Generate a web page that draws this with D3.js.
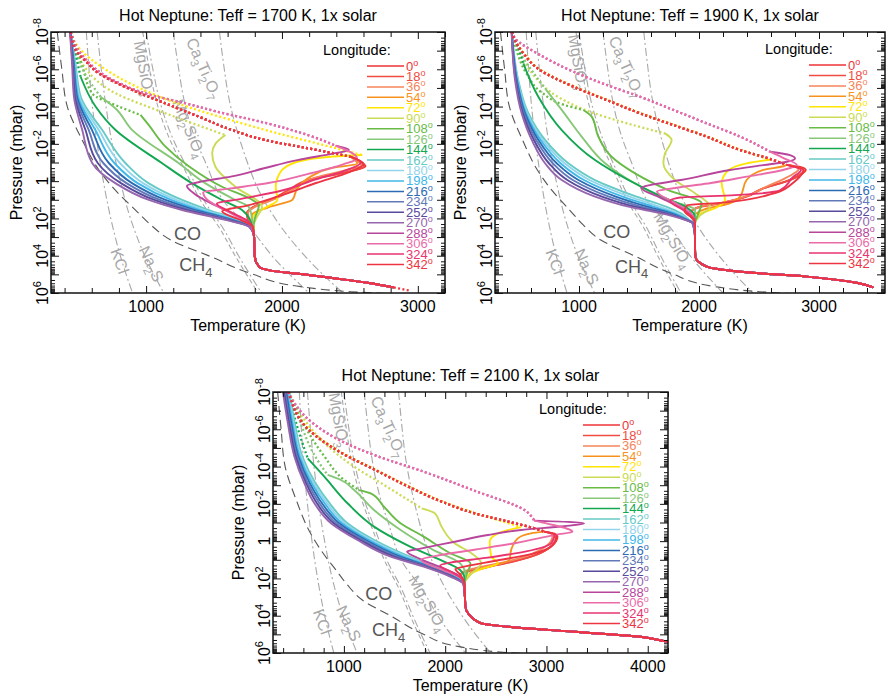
<!DOCTYPE html>
<html>
<head>
<meta charset="utf-8">
<script src="https://cdn.jsdelivr.net/npm/d3@7"></script>
<style>
  body { margin: 0; background: #fff; }
  text { font-family: "Liberation Sans", Arial, Helvetica, sans-serif; }
</style>
</head>
<body>
<div id="chart"></div>
<script>
// longitudes shown in every legend, and their colours
const longitudes = [0, 18, 36, 54, 72, 90, 108, 126, 144, 162, 180, 198, 216, 234, 252, 270, 288, 306, 324, 342];
const colors = ["#ee3338", "#ef4b41", "#f5855b", "#f7921e", "#ffe500", "#cbdb55", "#68bb45", "#87c878",
  "#13a752", "#66cac6", "#92d4ea", "#40b8e9", "#2a6bb4", "#6279b9", "#574a9c", "#9566ae",
  "#b8459c", "#eb6ba9", "#e9336f", "#ed3443"];

const pressureTicks = [-8, -6, -4, -2, 0, 2, 4, 6];   // log10 of pressure in mbar
const tempTicks1700 = [1000, 2000, 3000];
const tempTicks1900 = [1000, 2000, 3000];
const tempTicks2100 = [1000, 2000, 3000, 4000];

// condensation curves, [T (K), log10 p (mbar)]
const coCh4 = [[346,-8],[380,-6],[420,-4],[530,-2.2],[653,-0.6],[775,0.5],[922,1.55],[1035,2.35],[1182,3.16],[1476,4.05],[1770,4.95],[2138,5.66],[2505,5.93],[2820,6.05]];
const kcl = [[560,-8],[580,-6],[605,-4],[640,-2],[685,0],[740,2],[810,4],[900,6]];
const na2s = [[640,-8],[670,-6],[705,-4],[750,-2],[810,0],[885,2],[990,4],[1130,6]];
const mgsio3 = [[1000,-8],[1050,-6],[1100,-4.3],[1190,-2.4],[1310,-0.6],[1440,1.2],[1560,2.45],[1680,4],[1850,6]];
const mgsio3b = [[975,-8],[1025,-6],[1075,-4.3],[1165,-2.4],[1285,-0.6],[1415,1.2],[1535,2.45],[1655,4],[1825,6]];
const mg2sio4 = [[1200,-8],[1240,-6],[1275,-4.5],[1350,-2.5],[1440,-0.96],[1584,1.19],[1755,2.44],[1950,4.2],[2200,6]];
const ca3ti2o7 = [[1540,-8],[1570,-6.3],[1608,-4.5],[1706,-1.85],[1853,0.83],[2050,3],[2300,5],[2450,6]];

// ---------- Teff = 1700 K ----------
const redTop1700 = [[445,-8],[481,-7.03],[560,-6.4],[653,-5.78],[898,-4.89],[1143,-4.17],[1388,-3.46],[1633,-2.74],[1878,-2.2],[2200,-1.75],[2505,-1.31]];
const pinkTop1700 = [[445,-8],[530,-6.75],[776,-5.35],[1020,-4.65],[1265,-4.22],[1510,-3.75],[1880,-3.12],[2200,-2.45],[2395,-1.9]];
const yellowTop1700 = [[445,-8],[500,-7.2],[700,-6.0],[950,-5.0],[1200,-4.25],[1623,-3.28],[1950,-2.6],[2300,-1.95],[2591,-1.4]];
const top90_1700 = [[445,-8],[530,-6.3],[776,-4.71],[1143,-3.64],[1584,-2.47]];
const top108_1700 = [[445,-8],[530,-6.2],[604,-4.7],[800,-4.0],[959,-3.55]];
const top126_1700 = [[445,-8],[500,-6.5],[580,-5.4],[665,-4.53]];
const top144_1700 = [[445,-8],[480,-6.8],[518,-5.6]];
const tops1700 = [redTop1700, redTop1700, redTop1700, redTop1700, yellowTop1700, top90_1700, top108_1700, top126_1700, top144_1700,
  [], [], [], [], [], [], [], pinkTop1700, pinkTop1700, redTop1700, redTop1700];
const lows1700 = [
  [[2590,-1.0],[2615,-0.8],[2481,-0.5],[2235,-0.15],[2064,0.48],[1917,1.01],[1794,1.37],[1745,1.73],[1758,2.18],[1790,2.45]],
  [[2580,-1.02],[2605,-0.78],[2460,-0.45],[2215,-0.1],[2040,0.52],[1900,1.05],[1785,1.4],[1740,1.75],[1760,2.2],[1790,2.45]],
  [[2560,-1.05],[2585,-0.85],[2450,-0.55],[2250,-0.2],[2090,0.4],[1950,0.95],[1810,1.35],[1750,1.7],[1765,2.15],[1790,2.45]],
  [[2554,-0.95],[2358,-0.69],[2211,-0.24],[2113,0.39],[2076,1.01],[1900,1.4],[1780,1.8],[1775,2.2],[1790,2.45]],
  [[2358,-1.31],[2113,-1.04],[1990,-0.5],[1954,0.3],[1966,1.01],[1870,1.45],[1790,1.85],[1780,2.2],[1790,2.45]],
  [[1510,-2.0],[1486,-1.49],[1510,-0.77],[1657,0.3],[1853,1.37],[1810,2.0],[1790,2.45]],
  [[1020,-3.0],[1143,-1.85],[1314,-0.8],[1559,0.3],[1780,1.0],[1830,1.3],[1800,2.0],[1790,2.45]],
  [[775,-3.9],[898,-2.74],[1241,-0.96],[1437,0.12],[1657,1.01],[1755,1.37],[1780,2.0],[1785,2.45]],
  [[628,-4.0],[775,-2.74],[1118,-0.96],[1339,0.12],[1559,1.01],[1706,1.55],[1765,2.08],[1780,2.45]],
  [[445,-8],[480,-6.3],[520,-4.5],[677,-2.74],[849,-0.96],[1020,0.12],[1265,1.01],[1461,1.55],[1680,2.08],[1772,2.45]],
  [[444,-8],[475,-6.3],[510,-4.5],[652,-2.74],[808,-0.96],[980,0.12],[1224,1.01],[1429,1.55],[1664,2.08],[1770,2.45]],
  [[443,-8],[471,-6.3],[500,-4.5],[627,-2.74],[768,-0.96],[940,0.12],[1184,1.01],[1397,1.55],[1648,2.08],[1768,2.45]],
  [[443,-8],[467,-6.3],[492,-4.5],[602,-2.74],[727,-0.96],[899,0.12],[1143,1.01],[1364,1.55],[1632,2.08],[1766,2.45]],
  [[442,-8],[463,-6.3],[484,-4.5],[578,-2.74],[686,-0.96],[858,0.12],[1102,1.01],[1331,1.55],[1616,2.08],[1764,2.45]],
  [[441,-8],[459,-6.3],[476,-4.5],[554,-2.74],[645,-0.96],[817,0.12],[1061,1.01],[1298,1.55],[1600,2.08],[1762,2.45]],
  [[440,-8],[455,-6.3],[469,-4.5],[530,-2.74],[604,-0.96],[776,0.12],[1020,1.01],[1265,1.55],[1584,2.08],[1760,2.45]],
  [[2493,-1.67],[2382,-1.49],[2113,-1.13],[1868,-0.69],[1623,-0.24],[1420,0.0],[1300,0.25],[1360,0.7],[1480,1.2],[1640,1.75],[1780,2.45]],
  [[2553,-1.22],[2450,-0.9],[2200,-0.4],[1900,0.1],[1623,0.39],[1420,0.6],[1450,1.0],[1580,1.55],[1710,2.08],[1780,2.45]],
  [[2580,-1.0],[2480,-0.6],[2250,-0.1],[2000,0.5],[1700,0.95],[1520,1.2],[1620,1.65],[1740,2.1],[1785,2.45]],
  [[2600,-0.9],[2500,-0.5],[2250,0.1],[2000,0.75],[1750,1.3],[1560,1.62],[1700,2.1],[1785,2.45]]
];
const deep1700 = [[1790,2.45],[1795,3.0],[1797,3.5],[1800,4.05],[1831,4.59],[1917,4.8],[2137,4.98],[2382,5.21],[2627,5.45],[2823,5.7]];
const tail1700 = [[2823,5.7],[2946,5.88]];
const notes1700 = [["MgSiO3",986,-6.05,80],["Ca3Ti2O7",1427,-6.05,66],["Mg2SiO4",1317,-2.83,67],["KCl",807,4.28,70],["Na2S",1040,4.44,65],["CO",1305,2.8,0],["CH4",1366,4.5,0]];

// ---------- Teff = 1900 K ----------
const redTop1900 = [[440,-8],[453,-7.75],[536,-6.86],[675,-5.96],[953,-5.07],[1231,-4.35],[1508,-3.64],[1786,-3.01],[2064,-2.39],[2342,-1.67],[2620,-1.13],[2731,-0.87]];
const pinkTop1900 = [[440,-8],[467,-7.66],[675,-6.77],[953,-5.87],[1231,-5.16],[1508,-4.53],[1786,-3.82],[2064,-3.1],[2342,-2.39],[2592,-1.58]];
const yellowTop1900 = [[440,-8],[456,-7.75],[542,-6.86],[682,-5.96],[962,-5.07],[1240,-4.35],[1518,-3.64],[1795,-3.01],[2073,-2.39],[2350,-1.67],[2592,-1.15]];
const top90_1900 = [[440,-8],[500,-7],[620,-5.7],[830,-4.5],[1100,-3.7],[1400,-3.1],[1717,-2.56]];
const top108_1900 = [[440,-8],[480,-7],[560,-5.8],[700,-4.7],[870,-4.1],[1036,-3.82]];
const top126_1900 = [[440,-8],[500,-7],[600,-6],[717,-4.98]];
const top144_1900 = [[440,-8],[490,-7.2],[536,-6.32]];
const tops1900 = [redTop1900, redTop1900, redTop1900, redTop1900, yellowTop1900, top90_1900, top108_1900, top126_1900, top144_1900,
  [], [], [], [], [], [], [], pinkTop1900, pinkTop1900, redTop1900, redTop1900];
const lows1900 = [
  [[2850,-0.75],[2890,-0.6],[2860,-0.4],[2758,-0.06],[2536,0.39],[2397,0.83],[2175,1.19],[2008,1.37],[1925,1.73],[1953,2.08],[1967,2.26]],
  [[2840,-0.72],[2875,-0.55],[2840,-0.35],[2730,0.0],[2510,0.45],[2370,0.88],[2150,1.22],[1990,1.42],[1920,1.76],[1955,2.1],[1967,2.26]],
  [[2800,-0.78],[2830,-0.62],[2800,-0.45],[2700,-0.1],[2560,0.3],[2420,0.75],[2200,1.15],[2020,1.35],[1930,1.7],[1955,2.05],[1967,2.26]],
  [[2703,-0.8],[2536,-0.6],[2397,-0.06],[2342,0.83],[2250,1.2],[2050,1.5],[1960,1.9],[1967,2.26]],
  [[2397,-0.95],[2231,-0.5],[2189,0.12],[2217,1.01],[2150,1.4],[2000,1.8],[1967,2.26]],
  [[1772,-2.21],[1717,-1.49],[1703,-0.96],[1800,-0.06],[1967,0.65],[2092,1.37],[2000,1.9],[1967,2.26]],
  [[1106,-3.46],[1161,-2.39],[1272,-1.31],[1467,-0.42],[1744,0.48],[2022,1.19],[1990,1.8],[1967,2.26]],
  [[856,-3.82],[1022,-2.39],[1217,-0.96],[1467,0.12],[1744,1.01],[1967,1.55],[1965,2.0],[1967,2.26]],
  [[661,-4.53],[856,-2.74],[1133,-1.13],[1411,-0.06],[1689,0.83],[1883,1.37],[1960,1.8],[1967,2.26]],
  [[440,-8],[494,-5.42],[578,-3.64],[717,-2.21],[911,-0.96],[1133,-0.06],[1480,0.83],[1725,1.37],[1850,1.73],[1920,2.08],[1955,2.26]],
  [[440,-8],[490,-5.42],[568,-3.64],[698,-2.21],[879,-0.96],[1087,-0.06],[1422,0.83],[1672,1.37],[1823,1.73],[1914,2.08],[1954,2.26]],
  [[440,-8],[485,-5.42],[559,-3.64],[680,-2.21],[846,-0.96],[1041,-0.06],[1364,0.83],[1620,1.37],[1796,1.73],[1908,2.08],[1952,2.26]],
  [[440,-8],[481,-5.42],[550,-3.64],[662,-2.21],[814,-0.96],[995,-0.06],[1307,0.83],[1568,1.37],[1770,1.73],[1901,2.08],[1951,2.26]],
  [[439,-8],[476,-5.42],[540,-3.64],[643,-2.21],[781,-0.96],[948,-0.06],[1249,0.83],[1515,1.37],[1743,1.73],[1895,2.08],[1949,2.26]],
  [[439,-8],[472,-5.42],[531,-3.64],[624,-2.21],[749,-0.96],[902,-0.06],[1191,0.83],[1463,1.37],[1716,1.73],[1889,2.08],[1947,2.26]],
  [[439,-8],[467,-5.42],[522,-3.64],[606,-2.21],[717,-0.96],[856,-0.06],[1133,0.83],[1411,1.37],[1689,1.73],[1883,2.08],[1945,2.26]],
  [[2758,-1.4],[2800,-1.22],[2731,-1.04],[2536,-0.86],[2258,-0.6],[1850,-0.06],[1600,0.2],[1520,0.35],[1680,0.9],[1860,1.45],[1950,1.9],[1967,2.26]],
  [[2700,-1.25],[2814,-0.87],[2700,-0.6],[2397,-0.24],[2100,0.1],[1842,0.33],[1650,0.55],[1780,1.1],[1900,1.55],[1960,2.0],[1967,2.26]],
  [[2850,-0.6],[2780,-0.2],[2675,0.5],[2300,0.75],[1842,0.88],[1760,1.05],[1880,1.6],[1960,2.05],[1967,2.26]],
  [[2870,-0.6],[2800,0.0],[2600,0.7],[2200,1.15],[1900,1.3],[1880,1.6],[1955,2.05],[1967,2.26]]
];
const deep1900 = [[1967,2.26],[1967,3.0],[1967,3.6],[1970,4.05],[2064,4.59],[2342,4.86],[2897,5.12],[3314,5.45],[3453,5.7]];
const notes1900 = [["MgSiO3",994,-6.4,80],["Ca3Ti2O7",1397,-6.14,66],["Mg2SiO4",1786,3.16,60],["KCl",800,4.32,70],["Na2S",1064,4.59,65],["CO",1314,2.71,0],["CH4",1439,4.59,0]];

// ---------- Teff = 2100 K ----------
const redTop2100 = [[450,-8],[460,-7.84],[656,-5.96],[983,-4.71],[1310,-3.82],[1638,-2.92],[1965,-2.12],[2292,-1.49],[2619,-1.05],[2880,-0.69],[2978,-0.51]];
const pinkTop2100 = [[450,-8],[500,-7.5],[700,-6.3],[1000,-5.3],[1310,-4.6],[1801,-3.7],[2292,-2.7],[2782,-1.67],[2880,-1.1]];
const yellowTop2100 = [[450,-8],[465,-7.84],[665,-5.96],[992,-4.71],[1320,-3.82],[1648,-2.92],[1975,-2.12],[2300,-1.5],[2600,-1.0],[2749,-0.75]];
const top90_2100 = [[455,-8],[600,-6.6],[800,-5.3],[1100,-4.0],[1400,-3.0],[1768,-1.76]];
const top108_2100 = [[455,-8],[600,-6.3],[800,-4.6],[1000,-3.3],[1150,-2.74]];
const top126_2100 = [[455,-8],[560,-6.5],[700,-4.7],[839,-3.55]];
const top144_2100 = [[455,-8],[520,-6.5],[643,-4.44]];
const tops2100 = [redTop2100, redTop2100, redTop2100, redTop2100, yellowTop2100, top90_2100, top108_2100, top126_2100, top144_2100,
  [], [], [], [], [], [], [], pinkTop2100, pinkTop2100, redTop2100, redTop2100];
const lows2100 = [
  [[3080,-0.4],[3109,-0.25],[3044,0.3],[2847,0.83],[2586,1.19],[2324,1.46],[2160,1.73],[2144,2.0],[2190,2.3]],
  [[3070,-0.38],[3095,-0.2],[3030,0.35],[2830,0.86],[2570,1.22],[2310,1.5],[2155,1.76],[2145,2.03],[2190,2.3]],
  [[3040,-0.42],[3060,-0.28],[3000,0.25],[2800,0.8],[2550,1.17],[2300,1.45],[2165,1.7],[2150,2.0],[2190,2.3]],
  [[2847,-0.42],[2717,-0.15],[2651,0.48],[2635,1.01],[2450,1.35],[2250,1.7],[2190,2.3]],
  [[2520,-0.42],[2439,0.03],[2455,0.83],[2520,1.19],[2350,1.5],[2200,2.0],[2190,2.3]],
  [[1899,-1.49],[1964,-0.78],[2095,0.12],[2259,0.65],[2357,1.19],[2250,1.8],[2190,2.3]],
  [[1265,-2.56],[1395,-1.85],[1559,-0.96],[1788,-0.24],[2050,0.65],[2250,1.2],[2210,1.8],[2190,2.3]],
  [[970,-3.28],[1101,-2.74],[1297,-1.67],[1560,-0.6],[1886,0.48],[2148,1.19],[2200,1.8],[2190,2.3]],
  [[807,-3.46],[1036,-2.03],[1297,-0.78],[1624,0.21],[1952,1.01],[2148,1.55],[2190,2.0],[2190,2.3]],
  [[463,-8],[515,-6.32],[590,-4.53],[720,-3.1],[860,-2.03],[1036,-0.96],[1300,-0.06],[1650,0.83],[1900,1.37],[2110,1.9],[2186,2.3]],
  [[452,-8],[504,-6.32],[577,-4.53],[701,-3.1],[835,-2.03],[1009,-0.96],[1272,-0.06],[1619,0.83],[1881,1.37],[2100,1.9],[2185,2.3]],
  [[441,-8],[492,-6.32],[564,-4.53],[683,-3.1],[810,-2.03],[981,-0.96],[1245,-0.06],[1588,0.83],[1863,1.37],[2090,1.9],[2184,2.3]],
  [[431,-8],[481,-6.32],[551,-4.53],[664,-3.1],[784,-2.03],[954,-0.96],[1217,-0.06],[1556,0.83],[1844,1.37],[2080,1.9],[2183,2.3]],
  [[420,-8],[469,-6.32],[538,-4.53],[646,-3.1],[759,-2.03],[926,-0.96],[1190,-0.06],[1525,0.83],[1826,1.37],[2070,1.9],[2182,2.3]],
  [[409,-8],[458,-6.32],[525,-4.53],[628,-3.1],[734,-2.03],[899,-0.96],[1162,-0.06],[1493,0.83],[1807,1.37],[2060,1.9],[2181,2.3]],
  [[398,-8],[447,-6.32],[512,-4.53],[610,-3.1],[709,-2.03],[872,-0.96],[1134,-0.06],[1461,0.83],[1788,1.37],[2050,1.9],[2180,2.3]],
  [[3371,-0.95],[3174,-0.8],[2749,-0.6],[2422,-0.33],[2095,0.03],[1768,0.39],[1624,0.56],[1750,0.95],[2000,1.5],[2150,1.9],[2190,2.3]],
  [[3000,-0.95],[3257,-0.5],[3100,-0.35],[2700,0.1],[2300,0.45],[1900,0.8],[1760,1.0],[1950,1.5],[2150,1.95],[2190,2.3]],
  [[3080,-0.35],[3050,0.1],[2800,0.55],[2400,0.9],[2050,1.15],[1950,1.3],[2080,1.7],[2180,2.1],[2190,2.3]],
  [[3100,-0.3],[3060,0.2],[2850,0.7],[2500,1.05],[2200,1.35],[2100,1.5],[2150,1.8],[2190,2.3]]
];
const deep2100 = [[2190,2.3],[2195,3.0],[2200,3.52],[2227,3.88],[2357,4.41],[2619,4.59],[3273,4.86],[3928,5.13],[4205,5.4],[4400,5.52]];
const notes2100 = [["MgSiO3",951,-6.5,80],["Ca3Ti2O7",1442,-6.14,66],["Mg2SiO4",1834,3.34,60],["KCl",787,4.32,70],["Na2S",1049,4.41,65],["CO",1343,2.8,0],["CH4",1442,4.77,0]];

// ---------- layout ----------
const panels = [
  {id: 1, title: "Hot Neptune: Teff = 1700 K, 1x solar", x0: 51, x1: 445, y0: 32, y1: 293, tmax: 3200,
   tops: tops1700, lows: lows1700, deep: deep1700, tail: tail1700, notes: notes1700, ticks: tempTicks1700, legendX: 367, legendY: 66},
  {id: 2, title: "Hot Neptune: Teff = 1900 K, 1x solar", x0: 495, x1: 885, y0: 32, y1: 293, tmax: 3550,
   tops: tops1900, lows: lows1900, deep: deep1900, tail: null, notes: notes1900, ticks: tempTicks1900, legendX: 809, legendY: 65},
  {id: 3, title: "Hot Neptune: Teff = 2100 K, 1x solar", x0: 273, x1: 668, y0: 392, y1: 653, tmax: 4200,
   tops: tops2100, lows: lows2100, deep: deep2100, tail: null, notes: notes2100, ticks: tempTicks2100, legendX: 583, legendY: 425}
];

const svg = d3.select("#chart").append("svg")
    .attr("width", 886)
    .attr("height", 698);

// text with chemical subscripts
function chem(sel, name, size) {
  let sub = false;
  name.match(/[A-Za-z]+|\d+/g).forEach(s => {
    const isNum = /\d/.test(s);
    const t = sel.append("tspan").text(s);
    if (isNum && !sub) { t.attr("dy", size * 0.3).style("font-size", (size * 0.72) + "px"); sub = true; }
    else if (isNum) { t.style("font-size", (size * 0.72) + "px"); }
    else if (sub) { t.attr("dy", -size * 0.3); sub = false; }
  });
}

function drawPanel(p) {
  const x = d3.scaleLinear().domain([300, p.tmax]).range([p.x0, p.x1]);
  const y = d3.scaleLog().domain([1e-8, 1e6]).range([p.y0, p.y1]);
  const line = d3.line()
      .x(d => x(d[0]))
      .y(d => y(Math.pow(10, d[1])))
      .curve(d3.curveMonotoneY);

  svg.append("clipPath").attr("id", "clip" + p.id)
    .append("rect")
      .attr("x", p.x0).attr("y", p.y0)
      .attr("width", p.x1 - p.x0).attr("height", p.y1 - p.y0);

  const g = svg.append("g");
  const plot = g.append("g").attr("clip-path", `url(#clip${p.id})`);

  // condensation curves
  const grey = [[kcl, "8,3,2,3"], [na2s, "8,3,2,3"], [mgsio3b, "5,3"], [mgsio3, "8,3,2,3"], [mg2sio4, "8,3,2,3"], [ca3ti2o7, "8,3,2,3"]];
  grey.forEach(c => {
    plot.append("path")
      .attr("d", line(c[0]))
      .attr("fill", "none")
      .attr("stroke", "#a8a8a8")
      .attr("stroke-width", 1.1)
      .attr("stroke-dasharray", c[1]);
  });
  plot.append("path")
    .attr("d", line(coCh4))
    .attr("fill", "none")
    .attr("stroke", "#555")
    .attr("stroke-width", 1.1)
    .attr("stroke-dasharray", "9,5");

  // labels of the condensation curves
  p.notes.forEach(n => {
    const dark = n[0] === "CO" || n[0] === "CH4";
    const size = dark ? 18 : 16;
    const t = plot.append("text")
      .attr("transform", `translate(${x(n[1])},${y(Math.pow(10, n[2]))}) rotate(${n[3]})`)
      .attr("text-anchor", "middle")
      .attr("dy", "0.35em")
      .attr("fill", dark ? "#555" : "#a8a8a8")
      .style("font-size", size + "px");
    chem(t, n[0], size);
  });

  // temperature-pressure profiles
  longitudes.forEach((lon, i) => {
    const top = p.tops[i];
    const upper = top.concat(p.lows[i]);
    const last = upper[upper.length - 1][1];
    const full = upper.concat(p.deep.filter(d => d[1] > last));
    const k = top.length ? top.length - 1 : 0;
    if (top.length) {
      plot.append("path")
        .attr("d", line(full.slice(0, k + 1)))
        .attr("fill", "none")
        .attr("stroke", colors[i])
        .attr("stroke-width", 2.3)
        .attr("stroke-dasharray", "2,2.4");
    }
    plot.append("path")
      .attr("d", line(full.slice(k)))
      .attr("fill", "none")
      .attr("stroke", colors[i])
      .attr("stroke-width", 1.9);
  });
  if (p.tail) {
    plot.append("path")
      .attr("d", line(p.tail))
      .attr("fill", "none")
      .attr("stroke", colors[0])
      .attr("stroke-width", 2.3)
      .attr("stroke-dasharray", "2,2.4");
  }

  // axes with inward ticks
  const decades = d3.range(-8, 7).map(e => Math.pow(10, e));
  const minorP = [];
  d3.range(-8, 6).forEach(e => d3.range(2, 10).forEach(m => minorP.push(m * Math.pow(10, e))));
  const majorT = d3.range(1000, p.tmax + 1, 1000);
  const minorT = d3.range(400, p.tmax + 1, 200).filter(t => t % 1000 !== 0);

  const axes = g.append("g");
  axes.append("g").attr("transform", `translate(${p.x0},0)`)
    .call(d3.axisLeft(y).tickValues(decades).tickSizeInner(-8).tickSizeOuter(0).tickFormat(""));
  axes.append("g").attr("transform", `translate(${p.x0},0)`)
    .call(d3.axisLeft(y).tickValues(minorP).tickSizeInner(-4).tickSizeOuter(0).tickFormat(""));
  axes.append("g").attr("transform", `translate(${p.x1},0)`)
    .call(d3.axisRight(y).tickValues(decades).tickSizeInner(-8).tickSizeOuter(0).tickFormat(""));
  axes.append("g").attr("transform", `translate(${p.x1},0)`)
    .call(d3.axisRight(y).tickValues(minorP).tickSizeInner(-4).tickSizeOuter(0).tickFormat(""));
  axes.append("g").attr("transform", `translate(0,${p.y1})`)
    .call(d3.axisBottom(x).tickValues(majorT).tickSizeInner(-7).tickSizeOuter(0).tickFormat(""));
  axes.append("g").attr("transform", `translate(0,${p.y1})`)
    .call(d3.axisBottom(x).tickValues(minorT).tickSizeInner(-5).tickSizeOuter(0).tickFormat(""));
  axes.append("g").attr("transform", `translate(0,${p.y0})`)
    .call(d3.axisTop(x).tickValues(majorT).tickSizeInner(-7).tickSizeOuter(0).tickFormat(""));
  axes.append("g").attr("transform", `translate(0,${p.y0})`)
    .call(d3.axisTop(x).tickValues(minorT).tickSizeInner(-5).tickSizeOuter(0).tickFormat(""));
  axes.selectAll(".domain").remove();
  axes.selectAll(".tick line").attr("stroke", "#111").attr("stroke-width", 1);

  g.append("rect")
    .attr("x", p.x0).attr("y", p.y0)
    .attr("width", p.x1 - p.x0).attr("height", p.y1 - p.y0)
    .attr("fill", "none").attr("stroke", "#111").attr("stroke-width", 1.5);

  // tick labels
  p.ticks.forEach(t => {
    g.append("text")
      .attr("x", x(t)).attr("y", p.y1 + 19)
      .attr("text-anchor", "middle")
      .style("font-size", "16px")
      .text(t);
  });
  pressureTicks.forEach(e => {
    const t = g.append("text")
      .attr("transform", `translate(${p.x0 - 3.5},${y(Math.pow(10, e))}) rotate(-90)`)
      .attr("text-anchor", "middle")
      .style("font-size", "16px");
    if (e === 0) { t.text("1"); }
    else {
      t.append("tspan").text("10");
      t.append("tspan").attr("dy", -7).style("font-size", "11px").text(e);
    }
  });

  // titles
  g.append("text")
    .attr("x", (p.x0 + p.x1) / 2).attr("y", p.y0 - 11)
    .attr("text-anchor", "middle")
    .style("font-size", "16px")
    .text(p.title);
  g.append("text")
    .attr("x", (p.x0 + p.x1) / 2).attr("y", p.y1 + 38)
    .attr("text-anchor", "middle")
    .style("font-size", "16px")
    .text("Temperature (K)");
  g.append("text")
    .attr("transform", `translate(${p.x0 - 29},${(p.y0 + p.y1) / 2}) rotate(-90)`)
    .attr("text-anchor", "middle")
    .style("font-size", "16px")
    .text("Pressure (mbar)");

  // legend
  const lg = g.append("g");
  lg.append("text")
    .attr("x", p.legendX - 44).attr("y", p.legendY - 11)
    .style("font-size", "14.5px")
    .text("Longitude:");
  longitudes.forEach((lon, i) => {
    const yy = p.legendY + i * 10.45;
    lg.append("line")
      .attr("x1", p.legendX).attr("x2", p.legendX + 37)
      .attr("y1", yy).attr("y2", yy)
      .attr("stroke", colors[i]).attr("stroke-width", 1.5);
    const t = lg.append("text")
      .attr("x", p.legendX + 39).attr("y", yy + 4.5)
      .attr("fill", colors[i])
      .style("font-size", "13px");
    t.append("tspan").text(lon);
    t.append("tspan").attr("dy", -5).style("font-size", "9px").text("o");
  });
}

panels.forEach(drawPanel);
</script>
</body>
</html>
